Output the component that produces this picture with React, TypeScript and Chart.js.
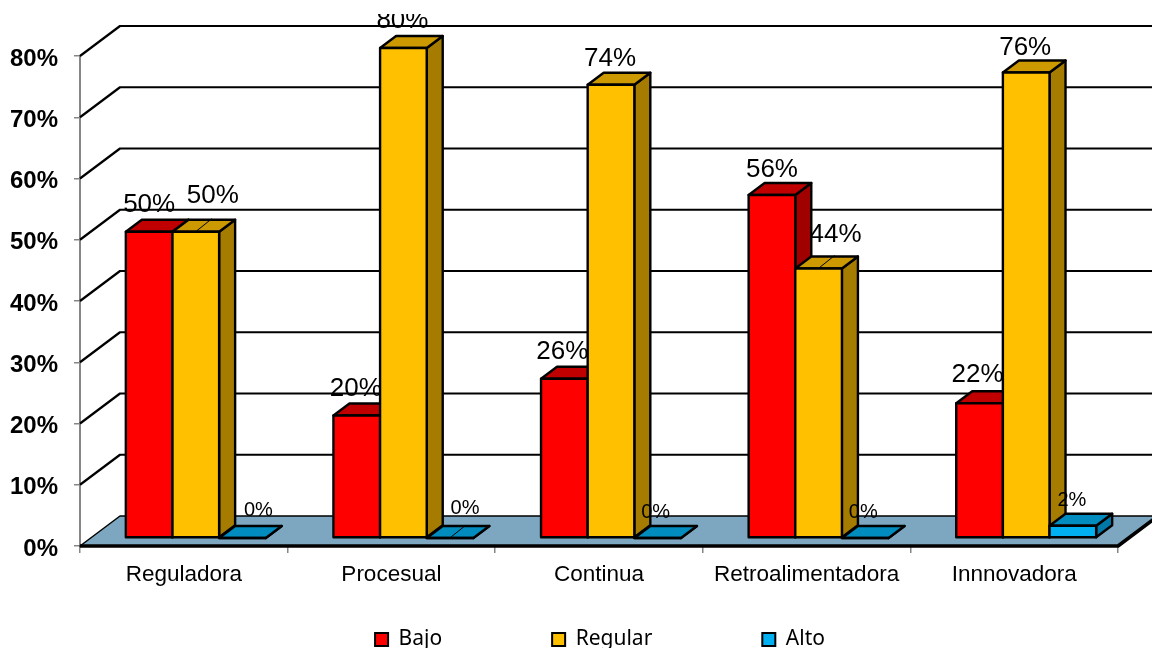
import React, { useEffect, useRef } from "react";
import { Chart, registerables } from "chart.js";

Chart.register(...registerables);

const categories = ["Reguladora", "Procesual", "Continua", "Retroalimentadora", "Innnovadora"];
const seriesNames = ["Bajo", "Regular", "Alto"];
const bajo = [50, 20, 26, 56, 22];
const regular = [50, 80, 74, 44, 76];
const alto = [0, 0, 0, 0, 2];
const yTicksMax = 80;

const FONT = "'Liberation Sans', Arial, sans-serif";
const WALL = { dx: 40, dy: -30 };
const BAR_SHIFT = { dx: 12, dy: -8 };
const BAR_DEPTH = { dx: 16, dy: -12 };
const faces = [
  { front: "#FF0000", top: "#C00000", side: "#A00000" },
  { front: "#FFC000", top: "#CC9900", side: "#A67C00" },
  { front: "#00B0F0", top: "#008CBF", side: "#0079A8" },
];
// label nudges relative to the top centre of each bar: [dx, dy, fontSize, leader]
const labelNudges: [number, number, number, boolean][][] = [
  [[0, -27, 26, false], [-1, -27, 26, false], [-2, -27, 26, false], [0, -25, 26, false], [-2, -28, 26, false]],
  [[17, -36, 26, true], [-1, -27, 26, false], [-1, -26, 26, false], [17, -34, 26, true], [-1, -25, 26, false]],
  [[16, -28, 20, false], [15, -30, 20, true], [-2, -26, 20, false], [-2, -26, 20, false], [-1, -25, 20, false]],
];

function drawBarLayer(chart: any, di: number) {
  const { ctx } = chart;
  const meta = chart.getDatasetMeta(di);
  const f = faces[di];
  ctx.save();
  ctx.translate(BAR_SHIFT.dx, BAR_SHIFT.dy);
  ctx.lineWidth = 2.4;
  ctx.lineJoin = "round";
  ctx.strokeStyle = "#000";
  const { dx, dy } = BAR_DEPTH;
  meta.data.forEach((b: any) => {
    const l = b.x - b.width / 2;
    const r = b.x + b.width / 2;
    const t = b.y;
    const bt = b.base;
    ctx.beginPath();
    ctx.moveTo(r, t);
    ctx.lineTo(r + dx, t + dy);
    ctx.lineTo(r + dx, bt + dy);
    ctx.lineTo(r, bt);
    ctx.closePath();
    ctx.fillStyle = f.side;
    ctx.fill();
    ctx.stroke();
    ctx.beginPath();
    ctx.moveTo(l, t);
    ctx.lineTo(l + dx, t + dy);
    ctx.lineTo(r + dx, t + dy);
    ctx.lineTo(r, t);
    ctx.closePath();
    ctx.fillStyle = f.top;
    ctx.fill();
    ctx.stroke();
  });
  meta.controller.draw();
  ctx.lineWidth = 2.4;
  ctx.strokeStyle = "#000";
  meta.data.forEach((b: any) => {
    ctx.strokeRect(b.x - b.width / 2, b.y, b.width, b.base - b.y);
  });
  ctx.restore();
}

const depthPlugin = {
  id: "depth3d",
  afterLayout(chart: any) {
    const lg = chart.legend;
    if (lg) {
      lg.top = 629 - lg.options.labels.padding;
      lg.left += 41;
      lg.right += 41;
    }
  },
  beforeDatasetsDraw(chart: any) {
    const { ctx, chartArea: a, scales } = chart;
    const y = scales.y;
    const W = chart.width + 50;
    ctx.save();
    ctx.lineJoin = "round";
    const y0 = y.getPixelForValue(0);
    ctx.beginPath();
    ctx.moveTo(a.left, y0);
    ctx.lineTo(a.right, y0);
    ctx.lineTo(a.right + WALL.dx, y0 + WALL.dy);
    ctx.lineTo(a.left + WALL.dx, y0 + WALL.dy);
    ctx.closePath();
    ctx.fillStyle = "#7DA7C0";
    ctx.fill();
    ctx.strokeStyle = "#000";
    ctx.lineWidth = 1.5;
    ctx.stroke();
    ctx.lineWidth = 2.2;
    y.ticks.forEach((t: any) => {
      if (t.value === 0) return;
      const p = y.getPixelForValue(t.value);
      ctx.beginPath();
      ctx.moveTo(a.left, p);
      ctx.lineTo(a.left + WALL.dx, p + WALL.dy);
      ctx.lineTo(W, p + WALL.dy);
      ctx.stroke();
    });
    ctx.lineWidth = 3.5;
    ctx.beginPath();
    ctx.moveTo(a.left, y0);
    ctx.lineTo(a.right, y0);
    ctx.lineTo(a.right + WALL.dx, y0 + WALL.dy);
    ctx.stroke();
    ctx.restore();
    // painter's order: first series at the back of the paint stack
    chart.data.datasets.forEach((_: any, di: number) => drawBarLayer(chart, di));
  },
  // layers were painted above, in left-to-right order
  beforeDatasetDraw() {
    return false;
  },
  afterDatasetsDraw(chart: any) {
    const { ctx } = chart;
    ctx.save();
    ctx.beginPath();
    ctx.rect(0, 14, chart.width, chart.height - 14);
    ctx.clip();
    ctx.textAlign = "center";
    ctx.textBaseline = "middle";
    ctx.fillStyle = "#000";
    chart.data.datasets.forEach((ds: any, di: number) => {
      const meta = chart.getDatasetMeta(di);
      meta.data.forEach((b: any, i: number) => {
        const [ndx, ndy, size, leader] = labelNudges[di][i];
        const tx = b.x + BAR_SHIFT.dx;
        const ty = b.y + BAR_SHIFT.dy;
        ctx.font = `${size}px ${FONT}`;
        ctx.fillText(`${ds.data[i]}%`, tx + ndx, ty + ndy);
        if (leader) {
          ctx.strokeStyle = "#000";
          ctx.lineWidth = 1;
          ctx.beginPath();
          ctx.moveTo(tx + 1, ty - 1);
          ctx.lineTo(tx + 16, ty - 13);
          ctx.stroke();
        }
      });
    });
    ctx.restore();
  },
};

const series = [bajo, regular, alto];

export default function App() {
  const ref = useRef<HTMLCanvasElement>(null);
  useEffect(() => {
    const chart = new Chart(ref.current as HTMLCanvasElement, {
      type: "bar",
      data: {
        labels: categories,
        datasets: seriesNames.map((name, i) => ({
          label: name,
          data: series[i],
          backgroundColor: faces[i].front,
          borderWidth: 0,
          clip: false as any,
          categoryPercentage: 0.674,
          barPercentage: 1,
        })),
      },
      options: {
        responsive: false,
        animation: false,
        devicePixelRatio: 1,
        layout: { padding: { top: 56, right: 34, left: 0, bottom: 0 } },
        plugins: {
          tooltip: { enabled: false },
          legend: {
            position: "bottom",
            maxHeight: 30,
            labels: {
              boxWidth: 13,
              boxHeight: 13,
              padding: 110,
              color: "#000",
              font: { family: "'Noto Sans', sans-serif", size: 21 },
              generateLabels: (c: any) =>
                Chart.defaults.plugins.legend.labels
                  .generateLabels(c)
                  .map((it: any) => ({ ...it, lineWidth: 2, strokeStyle: "#000" })),
            },
          },
        },
        scales: {
          x: {
            afterFit: (s: any) => {
              s.height = 72;
            },
            border: { display: false },
            grid: { drawOnChartArea: false, drawTicks: true, tickLength: 7, color: "#868686", lineWidth: 1.5 },
            ticks: { color: "#000", padding: 8, maxRotation: 0, autoSkip: false, font: { family: FONT, size: 22.5 } },
          },
          y: {
            min: 0,
            max: yTicksMax,
            afterFit: (s: any) => {
              s.width = 80;
            },
            border: { display: true, color: "#868686", width: 2 },
            grid: { drawOnChartArea: false, drawTicks: true, tickLength: 6, color: "#868686", lineWidth: 1.5 },
            ticks: {
              stepSize: 10,
              color: "#000",
              padding: 16,
              labelOffset: 3,
              font: { family: FONT, size: 24, weight: "bold" },
              callback: (v: any) => `${v}%`,
            },
          },
        },
      },
      plugins: [depthPlugin],
    } as any);
    return () => chart.destroy();
  }, []);
  return (
    <div style={{ position: "fixed", left: 0, top: 0, width: 1152, height: 648, background: "#fff" }}>
      <canvas ref={ref} width={1152} height={648} style={{ display: "block" }} />
    </div>
  );
}
